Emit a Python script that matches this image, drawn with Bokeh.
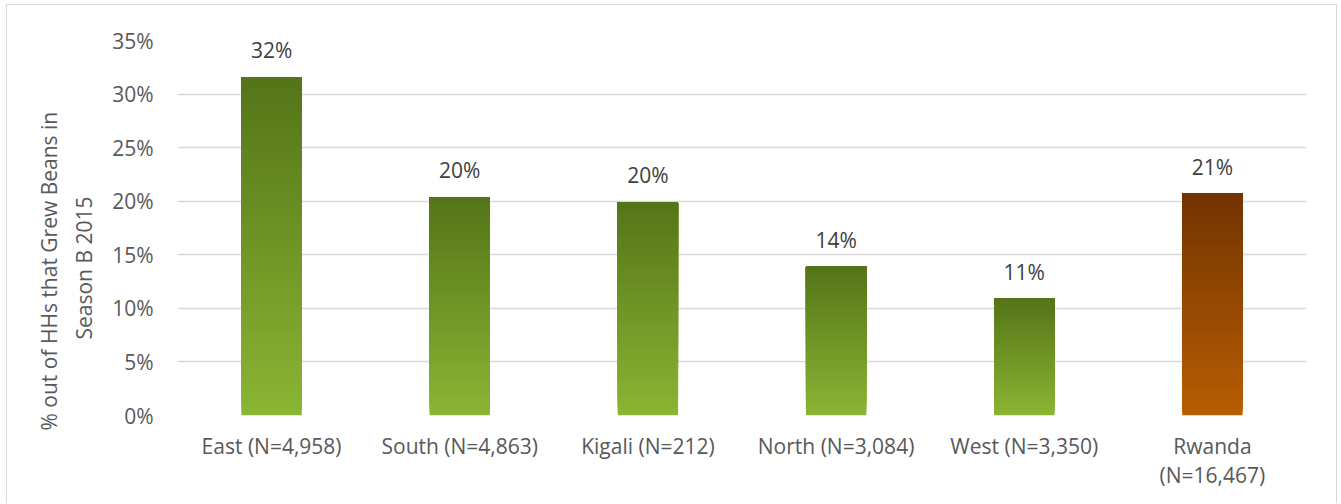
import numpy as np
from bokeh.plotting import figure
from bokeh.models import (ColumnDataSource, FactorRange, Range1d, NumeralTickFormatter,
                          FixedTicker, Title)
from bokeh.core.properties import value
from bokeh.embed import file_html
from bokeh.resources import INLINE

# Share of households that grew beans in Season B 2015, by province
regions = ["East (N=4,958)", "South (N=4,863)", "Kigali (N=212)",
           "North (N=3,084)", "West (N=3,350)", "Rwanda\n(N=16,467)"]
shares = [0.316, 0.204, 0.199, 0.139, 0.109, 0.207]
y_ticks = [0.0, 0.05, 0.10, 0.15, 0.20, 0.25, 0.30, 0.35]
y_title_lines = ["% out of HHs that Grew Beans in", "Season B 2015"]

FONT = "Open Sans"
FONT_SIZE = "21px"
TICK_COLOR = "#595959"
LABEL_COLOR = "#404040"

# vertical gradients (bottom colour, top colour)
GREEN = ("#8bb534", "#557418")
BROWN = ("#b85d03", "#723401")
STEPS = 80
BAR_WIDTH = 0.32


def hex_to_rgb(h):
    h = h.lstrip("#")
    return np.array([int(h[i:i + 2], 16) for i in (0, 2, 4)], dtype=float)


def blend(c0, c1, t):
    rgb = hex_to_rgb(c0) * (1 - t) + hex_to_rgb(c1) * t
    return "#%02x%02x%02x" % tuple(int(round(v)) for v in rgb)


# each bar is painted as a stack of bands, every band reaching up to the bar's
# top; drawn bottom-first, each one leaves visible only its own slice, which
# gives a seamless vertical gradient
band_x, band_bottom, band_top, band_color = [], [], [], []
for i, (region, share) in enumerate(zip(regions, shares)):
    bottom_c, top_c = BROWN if i == len(regions) - 1 else GREEN
    edges = np.linspace(0.0, share, STEPS + 1)
    for k in range(STEPS):
        band_x.append(region)
        band_bottom.append(edges[k])
        band_top.append(share)
        band_color.append(blend(bottom_c, top_c, (k + 0.5) / STEPS))

bands = ColumnDataSource(dict(x=band_x, bottom=band_bottom, top=band_top, color=band_color))
labels = ColumnDataSource(dict(x=regions, y=shares,
                               text=["%d%%" % round(s * 100) for s in shares]))

p = figure(x_range=FactorRange(*regions), y_range=Range1d(0, 0.35),
           width=1331, height=499, output_backend="svg", toolbar_location=None,
           min_border_left=170, min_border_right=32, min_border_top=35, min_border_bottom=89,
           styles={"border": "1px solid #d9d9d9", "border-bottom": "none",
                   "margin-left": "6px", "margin-top": "4px"})

p.vbar(x="x", bottom="bottom", top="top", width=BAR_WIDTH, fill_color="color",
       line_color=None, source=bands)

p.text(x="x", y="y", text="text", source=labels, text_align="center",
       text_baseline="alphabetic", y_offset=-27, text_color=LABEL_COLOR,
       text_font=value(FONT), text_font_size=FONT_SIZE)

p.outline_line_color = None
p.xgrid.grid_line_color = None
p.ygrid.grid_line_color = "#d9d9d9"
p.ygrid.grid_line_width = 1.5
p.ygrid.ticker = FixedTicker(ticks=y_ticks)

p.yaxis.ticker = FixedTicker(ticks=y_ticks)
p.yaxis.formatter = NumeralTickFormatter(format="0%")
p.yaxis.axis_line_color = None
p.yaxis.major_tick_line_color = None
p.yaxis.minor_tick_line_color = None
p.yaxis.major_label_standoff = 18
p.yaxis.major_label_text_font = FONT
p.yaxis.major_label_text_font_size = FONT_SIZE
p.yaxis.major_label_text_color = TICK_COLOR

# two-line y-axis title, set as left-side titles (inner line first); each is
# anchored at its start and lifted from the frame's bottom so the pair sits
# level with the whole plot block including the category labels
for line, standoff, offset in zip(reversed(y_title_lines), (23, -13), (76, -15)):
    p.add_layout(Title(text=line, align="left", offset=offset, standoff=standoff,
                       text_font=FONT, text_font_size=FONT_SIZE,
                       text_font_style="normal", text_color=TICK_COLOR), "left")

p.xaxis.axis_line_color = None
p.xaxis.major_tick_line_color = None
p.xaxis.major_label_standoff = 10
p.xaxis.major_label_text_font = FONT
p.xaxis.major_label_text_font_size = FONT_SIZE
p.xaxis.major_label_text_color = TICK_COLOR
p.xaxis.major_label_text_line_height = 1.05

open("out.html", "w").write(file_html(p, INLINE))
